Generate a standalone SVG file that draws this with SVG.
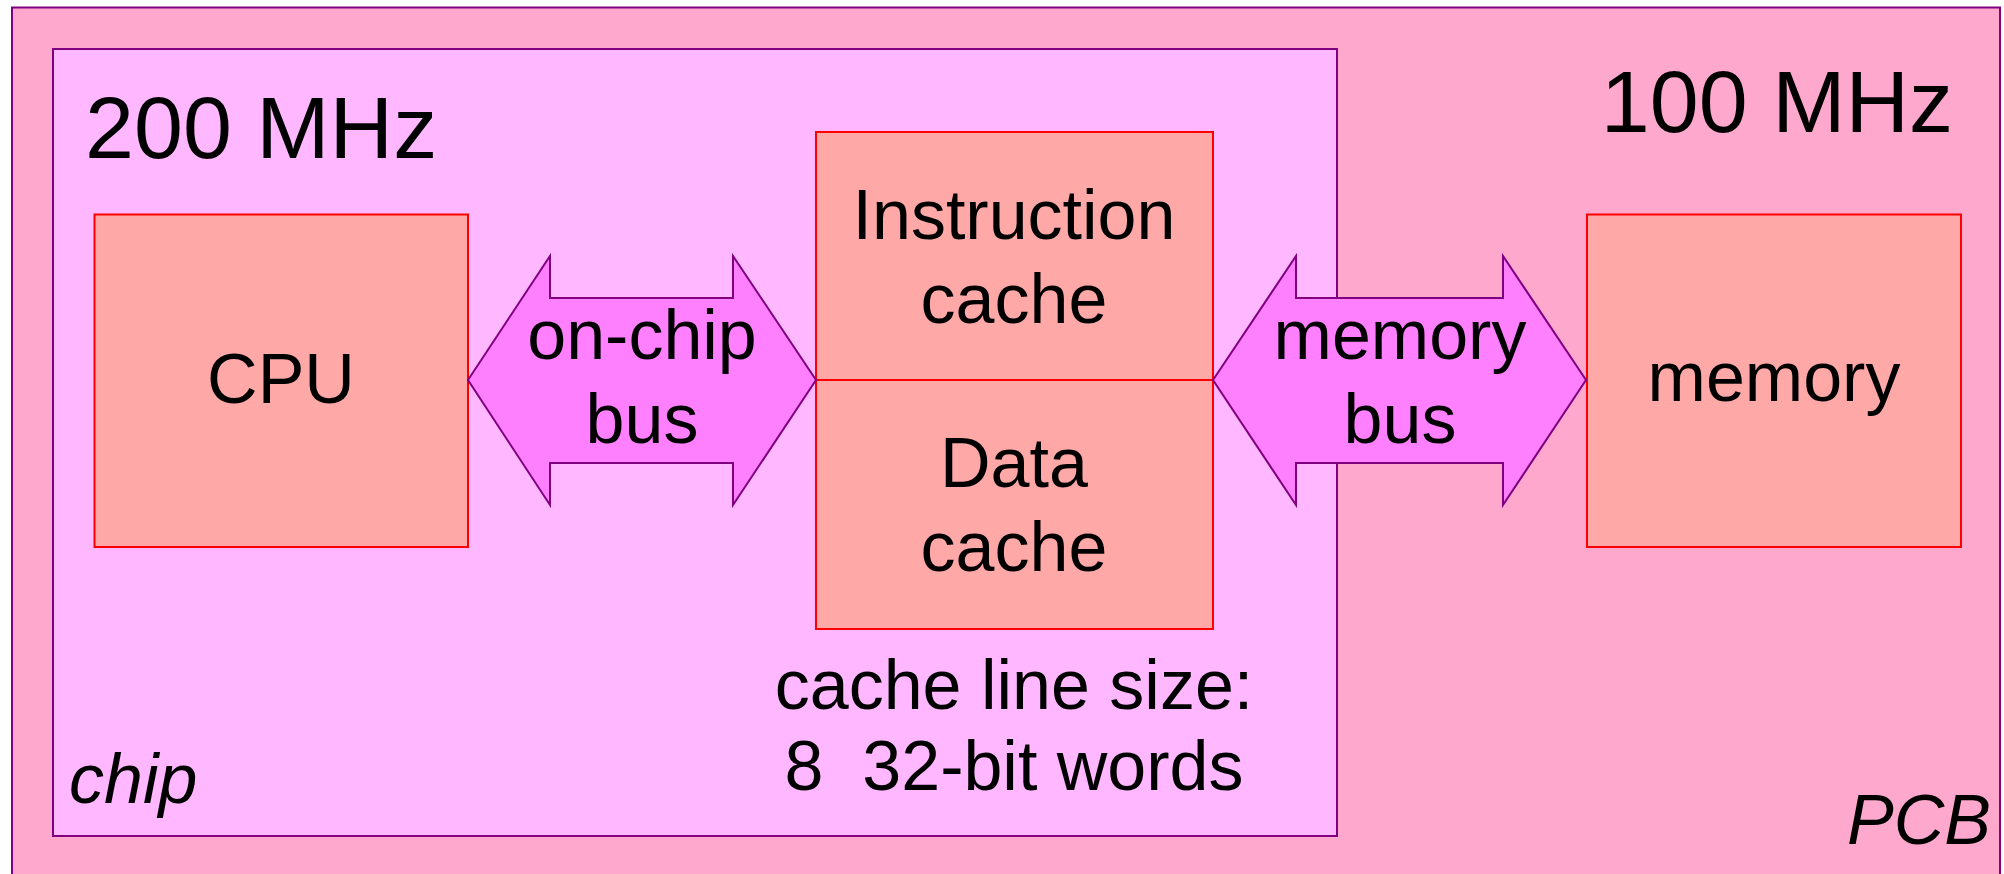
<svg xmlns="http://www.w3.org/2000/svg" width="2004" height="874" viewBox="0 0 2004 874">
<style>
.region{stroke:#800080;stroke-width:2}
.box{fill:#FFA8A8;stroke:#FF0000;stroke-width:2}
.bus{fill:#FF80FF;stroke:#800080;stroke-width:2;stroke-linejoin:miter}
text{font-family:"Liberation Sans",Arial,sans-serif;fill:#000}
.big{font-size:88px}
.lbl{font-size:70px;text-anchor:middle}
.it{font-size:70px;font-style:italic}
</style>
<rect width="2004" height="874" fill="#FFFFFF"/>
<g id="pcb">
<rect class="region" x="12" y="7.5" width="1988" height="880" fill="#FFA8CE"/>
<text class="it" x="1991" y="844" text-anchor="end">PCB</text>
<text class="big" x="1953" y="132" text-anchor="end">100 MHz</text>
</g>
<g id="chip">
<rect class="region" x="53" y="49" width="1284" height="787" fill="#FFB8FF"/>
<text class="it" x="69" y="803">chip</text>
<text class="big" x="85" y="158">200 MHz</text>
</g>
<g id="cpu">
<rect class="box" x="94.5" y="214.5" width="373.5" height="332.5"/>
<text class="lbl" x="281" y="403">CPU</text>
</g>
<g id="icache">
<rect class="box" x="816" y="132" width="397" height="248"/>
<text class="lbl" x="1014" y="239">Instruction</text>
<text class="lbl" x="1014" y="323">cache</text>
</g>
<g id="dcache">
<rect class="box" x="816" y="380" width="397" height="249"/>
<text class="lbl" x="1014" y="487">Data</text>
<text class="lbl" x="1014" y="571">cache</text>
</g>
<g id="memory">
<rect class="box" x="1587" y="214.5" width="374" height="332.5"/>
<text class="lbl" x="1774" y="401">memory</text>
</g>
<g id="note">
<text class="lbl" x="1014" y="709">cache line size:</text>
<text class="lbl" x="1014" y="790" xml:space="preserve">8  32-bit words</text>
</g>
<g id="connectors">
<g id="onchip-bus">
<polygon class="bus" points="468,380 550,256 550,298 733,298 733,256 816,380 733,505 733,463 550,463 550,505"/>
<text class="lbl" x="642" y="359">on-chip</text>
<text class="lbl" x="642" y="443">bus</text>
</g>
<g id="memory-bus">
<polygon class="bus" points="1213,380 1296,256 1296,298 1503,298 1503,256 1586,380 1503,505 1503,463 1296,463 1296,505"/>
<text class="lbl" x="1400" y="359">memory</text>
<text class="lbl" x="1400" y="443">bus</text>
</g>
</g>
</svg>
